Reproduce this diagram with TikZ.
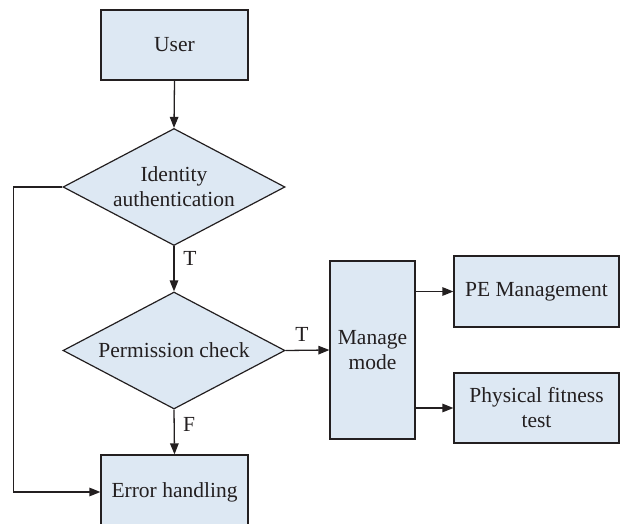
\documentclass[tikz,border=0pt]{standalone}
\usepackage{fontspec}
\setmainfont{Liberation Serif}
\usetikzlibrary{shapes.geometric,arrows.meta,calc}
\definecolor{boxfill}{RGB}{221,232,243}
\definecolor{ink}{RGB}{35,31,32}
\begin{document}
\begin{tikzpicture}[x=1pt,y=-1pt,
  font=\fontsize{21.5}{25}\selectfont,
  every node/.style={text=ink},
  box/.style={draw=ink,fill=boxfill,line width=1.2pt,inner sep=0pt,align=center},
  dec/.style={draw=ink,fill=boxfill,line width=1.2pt,diamond,aspect=1.9,inner sep=0pt,
    minimum width=222pt,minimum height=117pt,align=center},
  conn/.style={draw=ink,line width=1.3pt,-{Triangle[length=11pt,width=8.5pt]}},
  lbl/.style={text=ink,inner sep=0pt}]
\useasboundingbox (0,0) rectangle (621,524);
\clip (0,0) rectangle (621,524);
\node[box,minimum width=147pt,minimum height=70pt] (user) at (174.5,45) {User};
\node[dec] (d1) at (174,187) {Identity\\authentication};
\node[dec] (d2) at (174,350.5) {Permission check};
\node[box,minimum width=147pt,minimum height=74pt] (err) at (174.5,492) {Error handling};
\node[box,minimum width=85pt,minimum height=178pt] (mm) at (372.5,350) {Manage\\mode};
\node[box,minimum width=165pt,minimum height=71pt] (pe) at (536.5,291.5) {PE Management};
\node[box,minimum width=165pt,minimum height=70pt] (pft) at (536.5,408) {Physical fitness\\test};
\draw[conn] (user.south) -- (d1.north);
\draw[conn] (d1.south) -- (d2.north);
\node[lbl] (t1) at (190,258) {T};
\draw[conn] (d2.east) -- (mm.west);
\node[lbl] (t2) at (302,334) {T};
\draw[conn] (d2.south) -- (err.north);
\node[lbl] (f1) at (189,424) {F};
\draw[conn] (d1.west) -- ++(-49,0) |- (err.west);
\draw[conn] (mm.east |- pe.west) -- (pe.west);
\draw[conn] (mm.east |- pft.west) -- (pft.west);
\end{tikzpicture}
\end{document}
